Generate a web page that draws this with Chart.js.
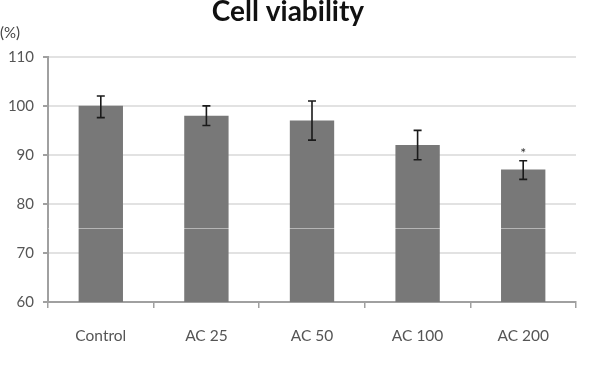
<!DOCTYPE html>
<html>
<head>
<meta charset="utf-8">
<script src="https://cdn.jsdelivr.net/npm/chart.js@4"></script>
<style>
    html, body { margin: 0; padding: 0; background: #fff; }
    #wrap { width: 615px; height: 375px; }
</style>
</head>
<body>
<div id="wrap"><canvas id="viabilityChart"></canvas></div>
<script>
// Data
const groups = ['Control', 'AC 25', 'AC 50', 'AC 100', 'AC 200'];
const viability = [100, 98, 97, 92, 87];
const errUpper = [102, 100, 101, 95, 88.8];
const errLower = [97.6, 96, 93, 89, 85];
const marks = ['', '', '', '', '*'];
const yTicks = [60, 70, 80, 90, 100, 110];

// Error bars + significance marks, drawn from the scales
const errorBarPlugin = {
    id: 'errorBars',
    afterDatasetsDraw(chart) {
        const ctx = chart.ctx;
        const x = chart.scales.x;
        const y = chart.scales.y;
        const area = chart.chartArea;

        // faint light band seen across the bars
        ctx.save();
        ctx.strokeStyle = 'rgba(255,255,255,0.45)';
        ctx.lineWidth = 1;
        ctx.beginPath();
        ctx.moveTo(area.left, Math.round(y.getPixelForValue(75)) + 0.5);
        ctx.lineTo(area.right, Math.round(y.getPixelForValue(75)) + 0.5);
        ctx.stroke();

        ctx.strokeStyle = '#1a1a1a';
        ctx.lineWidth = 1.6;
        groups.forEach((g, i) => {
            const cx = x.getPixelForValue(i);
            const top = y.getPixelForValue(errUpper[i]);
            const bot = y.getPixelForValue(errLower[i]);
            ctx.beginPath();
            ctx.moveTo(cx, top);
            ctx.lineTo(cx, bot);
            ctx.moveTo(cx - 4, top);
            ctx.lineTo(cx + 4, top);
            ctx.moveTo(cx - 4, bot);
            ctx.lineTo(cx + 4, bot);
            ctx.stroke();
            if (marks[i]) {
                ctx.fillStyle = '#333';
                ctx.font = '14px Lato';
                ctx.textAlign = 'center';
                ctx.textBaseline = 'bottom';
                ctx.fillText(marks[i], cx, top);
            }
        });

        // unit label above the y axis
        ctx.fillStyle = '#444';
        ctx.font = '15px Lato';
        ctx.textAlign = 'left';
        ctx.textBaseline = 'middle';
        ctx.fillText('(%)', 0, area.top - 24);
        ctx.restore();
    }
};

document.addEventListener('DOMContentLoaded', function() {
    const ctx = document.getElementById('viabilityChart');
    new Chart(ctx, {
        type: 'bar',
        data: {
            labels: groups,
            datasets: [{
                label: 'Cell viability',
                data: viability,
                backgroundColor: '#787878',
                borderWidth: 0,
                barPercentage: 0.42,
                categoryPercentage: 1.0
            }]
        },
        plugins: [errorBarPlugin],
        options: {
            responsive: true,
            maintainAspectRatio: false,
            animation: false,
            layout: {
                padding: { top: 0, right: 39, left: 0, bottom: 0 }
            },
            scales: {
                x: {
                    afterFit: function(scale) { scale.height = 73; },
                    ticks: {
                        font: { family: 'Lato', size: 15.5 },
                        color: '#555',
                        padding: 19
                    },
                    grid: {
                        offset: true,
                        drawOnChartArea: false,
                        drawTicks: true,
                        tickLength: 6,
                        color: '#a0a0a0',
                        lineWidth: 1.5
                    },
                    border: { color: '#a0a0a0', width: 2 }
                },
                y: {
                    min: 60,
                    max: 110,
                    afterFit: function(scale) { scale.width = 48; },
                    afterBuildTicks: function(scale) {
                        scale.ticks = yTicks.map(v => ({ value: v }));
                    },
                    ticks: {
                        font: { family: 'Lato', size: 15 },
                        color: '#555',
                        padding: 9
                    },
                    grid: {
                        color: '#e2e2e2',
                        lineWidth: 2,
                        tickLength: 5,
                        tickColor: '#a0a0a0'
                    },
                    border: { color: '#a0a0a0', width: 2 }
                }
            },
            plugins: {
                legend: { display: false },
                tooltip: { enabled: false },
                title: {
                    display: true,
                    text: 'Cell viability',
                    color: '#111',
                    font: { family: 'Lato', size: 28, weight: 'bold', lineHeight: 0.85 },
                    padding: { top: 0, bottom: 33 }
                }
            }
        }
    });
});
</script>
</body>
</html>
